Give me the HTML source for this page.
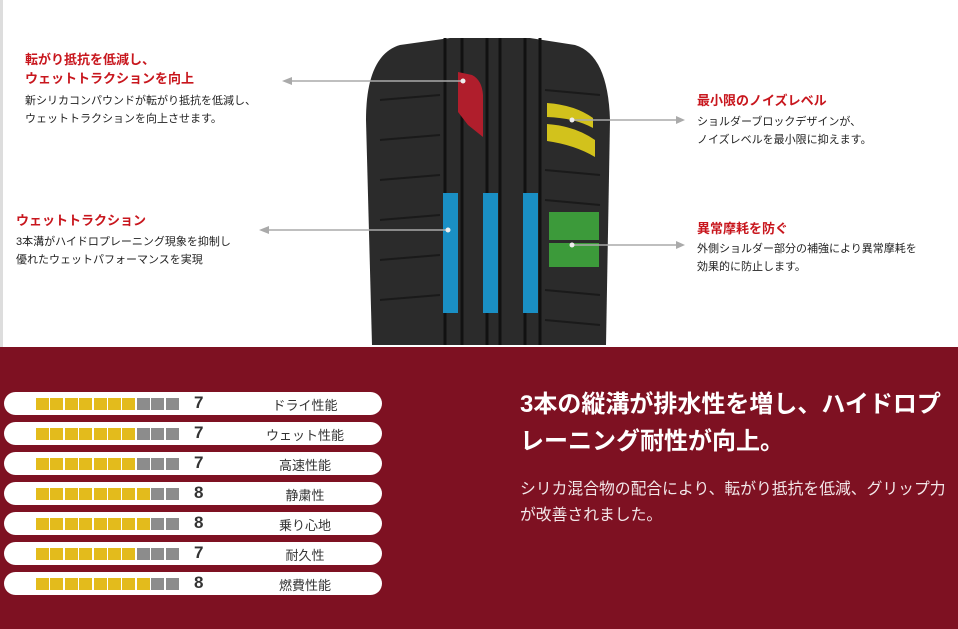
<!DOCTYPE html>
<html><head><meta charset="utf-8"><style>
body{margin:0;width:958px;height:629px;overflow:hidden;background:#fff;font-family:"Liberation Sans","Noto Sans CJK JP",sans-serif;position:relative}
.t{position:absolute;white-space:nowrap}
.r{color:#c8161d;font-weight:bold;font-size:13px;line-height:19px}
.b{color:#222;font-size:11px;line-height:18px}
.bot{position:absolute;left:0;top:347px;width:958px;height:282px;background:#7e1122}
.row{position:absolute;left:4px;width:378px;height:23px;background:#fff;border-radius:12px}
.bar{position:absolute;left:32px;top:6px;height:12px;display:flex;gap:1.4px}
.bar i{display:block;width:13px;height:12px;background:#e3bb1c}
.bar i.g{background:#8c8c8c}
.num{position:absolute;left:190px;top:1px;font-size:17px;font-weight:bold;color:#333}
.lab{position:absolute;left:246px;width:110px;text-align:center;top:3px;font-size:13px;color:#333}
</style></head><body>
<div style="position:absolute;left:0;top:0;width:3px;height:347px;background:#ddd"></div>
<svg style="position:absolute;left:0;top:0" width="958" height="347">
<path d="M372,345 L366,120 Q366,55 400,45 L450,38 L530,38 L575,45 Q608,55 610,120 L606,345z" fill="#2b2b2b"/>
<g stroke="#111" stroke-width="3"><line x1="445" y1="38" x2="445" y2="345"/><line x1="462" y1="38" x2="462" y2="345"/><line x1="487" y1="38" x2="487" y2="345"/><line x1="500" y1="38" x2="500" y2="345"/><line x1="525" y1="38" x2="525" y2="345"/><line x1="540" y1="38" x2="540" y2="345"/></g>
<g stroke="#1a1a1a" stroke-width="2">
<line x1="380" y1="100" x2="440" y2="95"/><line x1="380" y1="140" x2="440" y2="135"/><line x1="380" y1="180" x2="440" y2="175"/><line x1="380" y1="220" x2="440" y2="215"/><line x1="380" y1="260" x2="440" y2="255"/><line x1="380" y1="300" x2="440" y2="295"/>
<line x1="545" y1="90" x2="600" y2="95"/><line x1="545" y1="170" x2="600" y2="175"/><line x1="545" y1="200" x2="600" y2="205"/><line x1="545" y1="290" x2="600" y2="295"/><line x1="545" y1="320" x2="600" y2="325"/></g>
<path d="M458,72 L472,75 Q482,80 483,95 L483,137 L468,125 L458,112z" fill="#b01e2c"/>
<path d="M547,103 Q575,105 593,118 L593,128 Q575,118 547,117z M547,124 Q575,126 595,140 L595,157 Q575,145 547,141z" fill="#d2c21c"/>
<rect x="443" y="193" width="15" height="120" fill="#1a8fc4"/><rect x="483" y="193" width="15" height="120" fill="#1a8fc4"/><rect x="523" y="193" width="15" height="120" fill="#1a8fc4"/>
<rect x="549" y="212" width="50" height="28" fill="#3c9a3a"/><rect x="549" y="243" width="50" height="24" fill="#3c9a3a"/>
<g stroke="#aaa" stroke-width="1.5"><line x1="290" y1="81" x2="463" y2="81"/><line x1="267" y1="230" x2="448" y2="230"/><line x1="572" y1="120" x2="678" y2="120"/><line x1="572" y1="245" x2="678" y2="245"/></g>
<path d="M676,116 L685,120 L676,124z M676,241 L685,245 L676,249z M292,77 L282,81 L292,85z M269,226 L259,230 L269,234z" fill="#aaa"/>
<g fill="#eee"><circle cx="463" cy="81" r="2.5"/><circle cx="448" cy="230" r="2.5"/><circle cx="572" cy="120" r="2.5"/><circle cx="572" cy="245" r="2.5"/></g>
</svg>
<div class="t r" style="left:25px;top:50px">転がり抵抗を低減し、<br>ウェットトラクションを向上</div>
<div class="t b" style="left:25px;top:92px">新シリカコンパウンドが転がり抵抗を低減し、<br>ウェットトラクションを向上させます。</div>
<div class="t r" style="left:16px;top:211px">ウェットトラクション</div>
<div class="t b" style="left:16px;top:233px">3本溝がハイドロプレーニング現象を抑制し<br>優れたウェットパフォーマンスを実現</div>
<div class="t r" style="left:697px;top:91px">最小限のノイズレベル</div>
<div class="t b" style="left:697px;top:113px">ショルダーブロックデザインが、<br>ノイズレベルを最小限に抑えます。</div>
<div class="t r" style="left:697px;top:219px">異常摩耗を防ぐ</div>
<div class="t b" style="left:697px;top:240px">外側ショルダー部分の補強により異常摩耗を<br>効果的に防止します。</div>
<div class="bot"></div>
<div class="row" style="top:392px"><div class="bar"><i></i><i></i><i></i><i></i><i></i><i></i><i></i><i class="g"></i><i class="g"></i><i class="g"></i></div><div class="num">7</div><div class="lab">ドライ性能</div></div>
<div class="row" style="top:422px"><div class="bar"><i></i><i></i><i></i><i></i><i></i><i></i><i></i><i class="g"></i><i class="g"></i><i class="g"></i></div><div class="num">7</div><div class="lab">ウェット性能</div></div>
<div class="row" style="top:452px"><div class="bar"><i></i><i></i><i></i><i></i><i></i><i></i><i></i><i class="g"></i><i class="g"></i><i class="g"></i></div><div class="num">7</div><div class="lab">高速性能</div></div>
<div class="row" style="top:482px"><div class="bar"><i></i><i></i><i></i><i></i><i></i><i></i><i></i><i></i><i class="g"></i><i class="g"></i></div><div class="num">8</div><div class="lab">静粛性</div></div>
<div class="row" style="top:512px"><div class="bar"><i></i><i></i><i></i><i></i><i></i><i></i><i></i><i></i><i class="g"></i><i class="g"></i></div><div class="num">8</div><div class="lab">乗り心地</div></div>
<div class="row" style="top:542px"><div class="bar"><i></i><i></i><i></i><i></i><i></i><i></i><i></i><i class="g"></i><i class="g"></i><i class="g"></i></div><div class="num">7</div><div class="lab">耐久性</div></div>
<div class="row" style="top:572px"><div class="bar"><i></i><i></i><i></i><i></i><i></i><i></i><i></i><i></i><i class="g"></i><i class="g"></i></div><div class="num">8</div><div class="lab">燃費性能</div></div>
<div class="t" style="left:520px;top:386px;color:#fff;font-weight:bold;font-size:24px;line-height:37px">3本の縦溝が排水性を増し、ハイドロプ<br>レーニング耐性が向上。</div>
<div class="t" style="left:520px;top:477px;color:#f2e6e8;font-size:15.8px;line-height:26px">シリカ混合物の配合により、転がり抵抗を低減、グリップ力<br>が改善されました。</div>
</body></html>
